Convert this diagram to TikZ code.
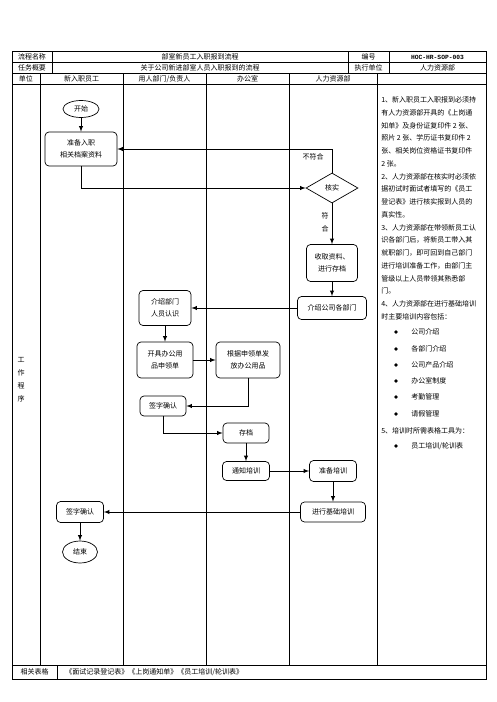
\documentclass[tikz,border=0pt]{standalone}
\usepackage{fontspec}
\setmainfont{Noto Sans CJK SC}
\newfontfamily\codefont{Liberation Mono}
\usetikzlibrary{shapes.geometric}
\begin{document}
\begin{tikzpicture}[>=latex, x=1pt, y=-1pt, line width=.7pt,
    font=\fontsize{7pt}{12pt}\selectfont,
    cell/.style={text height=5.8pt, text depth=1.2pt, inner sep=0pt},
    box/.style={draw, rounded corners=4pt, align=center, inner sep=1pt},
    term/.style={draw, ellipse, inner sep=0pt},
    arr/.style={->, line width=.9pt}]
    \useasboundingbox (0,0) rectangle (496,702);
    \draw (12,51) rectangle (486,679);
    \foreach \y in {62,73,84,665}
        \draw (12,\y)--(486,\y);
    \foreach \x in {52,348,389}
        \draw (\x,51)--(\x,73);
    \foreach \x in {40,123,206,289,377}
        \draw (\x,73)--(\x,665);
    \draw (57,665)--(57,679);
    \node[cell] (h1) at (32,57){流程名称};
    \node[cell] (h2) at (200,57){部室新员工入职报到流程};
    \node[cell] (h3) at (368.5,57){编号};
    \node[cell] (h4) at (437.5,57){\codefont\bfseries\fontsize{6.3pt}{7pt}\selectfont HOC-HR-SOP-003};
    \node[cell] (g1) at (32,68){任务概要};
    \node[cell] (g2) at (200,68){关于公司新进部室人员入职报到的流程};
    \node[cell] (g3) at (368.5,68){执行单位};
    \node[cell] (g4) at (437.5,68){人力资源部};
    \node[cell] (u0) at (26,79){单位};
    \node[cell] (u1) at (81.5,79){新入职员工};
    \node[cell] (u2) at (164.5,79){用人部门/负责人};
    \node[cell] (u3) at (247.5,79){办公室};
    \node[cell] (u4) at (333,79){人力资源部};
    \foreach \c [count=\i from 0] in {工,作,程,序}
        \node (w\i) at (21,360+13*\i){\c};
    \node[cell] (f1) at (34.5,672.5){相关表格};
    \node[cell, anchor=west] (f2) at (65,672.5){《面试记录登记表》《上岗通知单》《员工培训/轮训表》};

    \node[term, minimum width=36pt, minimum height=17pt] (start) at (81,109){开始};
    \node[box, minimum width=72pt, minimum height=34pt] (prep) at (81,149){准备入职\\相关档案资料};
    \node[draw, diamond, aspect=1.7, inner sep=0pt, minimum width=52pt, minimum height=30pt] (check) at (332,188){核实};
    \node[box, minimum width=51pt, minimum height=37pt] (collect) at (332,263){收取资料、\\进行存档};
    \node[box, minimum width=69pt, minimum height=23pt] (intro) at (332,308){介绍公司各部门};
    \node[box, minimum width=52pt, minimum height=35pt] (deptintro) at (165,308){介绍部门\\人员认识};
    \node[box, minimum width=56pt, minimum height=36pt] (apply) at (165,360){开具办公用\\品申领单};
    \node[box, minimum width=64pt, minimum height=36pt] (issue) at (248,360){根据申领单发\\放办公用品};
    \node[box, minimum width=46pt, minimum height=20pt] (sign1) at (163,406){签字确认};
    \node[box, minimum width=46pt, minimum height=20pt] (archive) at (246,433){存档};
    \node[box, minimum width=47pt, minimum height=19pt] (notify) at (246,471){通知培训};
    \node[box, minimum width=47pt, minimum height=21pt] (prepare) at (333,471){准备培训};
    \node[box, minimum width=65pt, minimum height=20pt] (train) at (333,512){进行基础培训};
    \node[box, minimum width=47pt, minimum height=21pt] (sign2) at (80,512){签字确认};
    \node[term, minimum width=35pt, minimum height=22pt] (finish) at (80,552){结束};

    \draw[arr] (start)--(prep);
    \draw[arr] (prep.south)|-(check.west);
    \draw[arr] (check.north)|-(prep.east);
    \node (lblno) at (313,157){不符合};
    \draw[arr] (check)--(collect);
    \node[align=center, font=\fontsize{7pt}{13pt}\selectfont] (lblyes) at (325,222){符\\合};
    \draw[arr] (collect)--(intro);
    \draw[arr] (intro)--(deptintro);
    \draw[arr] (deptintro)--(apply);
    \draw[arr] (apply)--(issue);
    \draw[arr] (issue.south)|-(sign1.east);
    \draw[arr] (sign1.south)|-(archive.west);
    \draw[arr] (archive)--(notify);
    \draw[arr] (notify)--(prepare);
    \draw[arr] (prepare)--(train);
    \draw[arr] (train)--(sign2);
    \draw[arr] (sign2)--(finish);

    \foreach \t [count=\i from 0] in {1、新入职员工入职报到必须持,有人力资源部开具的《上岗通,知单》及身份证复印件 2 张、,照片 2 张、学历证书复印件 2,张、相关岗位资格证书复印件,2 张。,2、人力资源部在核实时必须依,据初试时面试者填写的《员工,登记表》进行核实报到人员的,真实性。,3、人力资源部在带领新员工认,识各部门后，将新员工带入其,就职部门，即可回到自己部门,进行培训准备工作，由部门主,管级以上人员带领其熟悉部,门。,4、人力资源部在进行基础培训,时主要培训内容包括：}
        \node[anchor=west, inner sep=0pt] (r\i) at (381,100+12.75*\i){\t};
    \foreach \t/\y [count=\i] in {公司介绍/332,各部门介绍/349,公司产品介绍/365,办公室制度/381,考勤管理/397,请假管理/414}
    {
        \fill (396,\y) circle (1.8pt);
        \node[anchor=west, inner sep=0pt] (b\i) at (411,\y){\t};
    }
    \node[anchor=west, inner sep=0pt] (r5) at (381,431){5、培训时所需表格工具为：};
    \fill (396,446) circle (1.8pt);
    \node[anchor=west, inner sep=0pt] (b7) at (411,446){员工培训/轮训表};
\end{tikzpicture}
\end{document}
